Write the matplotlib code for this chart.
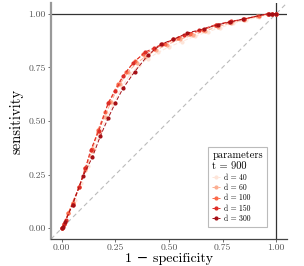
import matplotlib
matplotlib.use("Agg")
import matplotlib.pyplot as plt

plt.rcParams['font.family'] = 'serif'
plt.rcParams['font.serif'] = ['cmr10']
plt.rcParams['mathtext.fontset'] = 'cm'
plt.rcParams['axes.formatter.use_mathtext'] = True

# ROC curves, one per d (t = 900)
labels = ["d = 40", "d = 60", "d = 100", "d = 150", "d = 300"]
colors = ["#fee5d9", "#fcae91", "#fb6a4a", "#de2d26", "#a50f15"]

fpr_40 = [0, 0.01, 0.03, 0.06, 0.09, 0.12, 0.15, 0.18, 0.21, 0.24, 0.28, 0.32, 0.36, 0.40, 0.45, 0.50, 0.56, 0.62, 0.68, 0.74, 0.80, 0.86, 0.92, 0.97, 1.0]
tpr_40 = [0, 0.02, 0.07, 0.13, 0.21, 0.29, 0.37, 0.45, 0.52, 0.58, 0.66, 0.72, 0.76, 0.79, 0.82, 0.845, 0.87, 0.895, 0.915, 0.935, 0.955, 0.97, 0.985, 0.997, 1.0]

fpr_60 = [0, 0.01, 0.03, 0.05, 0.08, 0.11, 0.14, 0.17, 0.20, 0.23, 0.27, 0.31, 0.35, 0.39, 0.44, 0.49, 0.55, 0.61, 0.67, 0.73, 0.79, 0.85, 0.91, 0.96, 1.0]
tpr_60 = [0, 0.02, 0.07, 0.12, 0.19, 0.27, 0.36, 0.45, 0.52, 0.59, 0.67, 0.73, 0.77, 0.80, 0.83, 0.855, 0.88, 0.90, 0.92, 0.94, 0.957, 0.972, 0.987, 0.998, 1.0]

fpr_100 = [0, 0.01, 0.03, 0.05, 0.08, 0.11, 0.14, 0.17, 0.20, 0.22, 0.26, 0.30, 0.34, 0.38, 0.43, 0.48, 0.54, 0.60, 0.66, 0.72, 0.78, 0.85, 0.92, 0.96, 0.98, 1.0]
tpr_100 = [0, 0.02, 0.07, 0.12, 0.19, 0.28, 0.37, 0.46, 0.54, 0.59, 0.67, 0.73, 0.78, 0.81, 0.835, 0.86, 0.885, 0.905, 0.925, 0.945, 0.96, 0.975, 0.99, 0.998, 1.0, 1.0]

fpr_150 = [0, 0.01, 0.02, 0.05, 0.08, 0.11, 0.134, 0.173, 0.216, 0.25, 0.286, 0.333, 0.388, 0.43, 0.467, 0.52, 0.569, 0.639, 0.717, 0.787, 0.849, 0.963, 0.98, 1.0]
tpr_150 = [0, 0.02, 0.04, 0.11, 0.19, 0.28, 0.363, 0.455, 0.583, 0.64, 0.71, 0.77, 0.821, 0.84, 0.858, 0.88, 0.902, 0.922, 0.949, 0.964, 0.975, 1.0, 1.0, 1.0]

fpr_300 = [0, 0.005, 0.014, 0.05, 0.10, 0.142, 0.18, 0.216, 0.25, 0.286, 0.34, 0.403, 0.463, 0.52, 0.586, 0.665, 0.73, 0.785, 0.847, 0.964, 0.98, 1.0]
tpr_300 = [0, 0.005, 0.028, 0.11, 0.245, 0.33, 0.43, 0.513, 0.585, 0.653, 0.73, 0.808, 0.858, 0.88, 0.91, 0.93, 0.949, 0.961, 0.975, 1.0, 1.0, 1.0]

fprs = [fpr_40, fpr_60, fpr_100, fpr_150, fpr_300]
tprs = [tpr_40, tpr_60, tpr_100, tpr_150, tpr_300]

fig = plt.figure(figsize=(3.04, 2.66), dpi=100)
ax = fig.add_axes([0.168, 0.1015, 0.776, 0.8875])

ax.axline((0, 0), (1, 1), color="#bbbbbb", lw=0.8, ls=(0, (4, 3)), zorder=1)
ax.axhline(1, color="#333333", lw=0.9, zorder=1)
ax.axvline(1, color="#333333", lw=0.9, zorder=1)

for fx, ty, c, lab in zip(fprs, tprs, colors, labels):
    ax.plot(fx, ty, color=c, lw=0.7, ls=(0, (4, 2)), marker="o", ms=2.0,
            label=lab, zorder=2)

ax.set_xlim(-0.05, 1.05)
ax.set_ylim(-0.05, 1.05)
ticks = [0, 0.25, 0.5, 0.75, 1.0]
ax.set_xticks(ticks)
ax.set_yticks(ticks)
ax.set_xticklabels(["0.00", "0.25", "0.50", "0.75", "1.00"])
ax.set_yticklabels(["0.00", "0.25", "0.50", "0.75", "1.00"])
ax.tick_params(labelsize=7, colors="#555555", length=2.5, width=0.6, pad=1.5)
ax.tick_params(axis="x", pad=1)

for s in ["top", "right"]:
    ax.spines[s].set_visible(False)
ax.spines["left"].set_color("#999999")
ax.spines["left"].set_linewidth(1.6)
ax.spines["bottom"].set_color("#444444")
ax.spines["bottom"].set_linewidth(0.9)

ax.set_xlabel("1 \u2212 specificity", fontsize=10, va="baseline",
              family=["cmr10", "DejaVu Serif"])
ax.xaxis.set_label_coords(0.5, -0.096)
ax.set_ylabel("sensitivity", fontsize=10.5, labelpad=3)

leg = ax.legend(title="parameters\nt = 900", loc="lower right",
                bbox_to_anchor=(0.93, 0.035), fontsize=5.5, title_fontsize=7.5,
                fancybox=False, edgecolor="#bbbbbb", framealpha=1,
                handlelength=1.0, handletextpad=0.5, labelspacing=0.25,
                borderpad=0.5)
leg._legend_box.align = "left"
leg.get_frame().set_linewidth(0.8)

fig.savefig("out.png", dpi=100)
